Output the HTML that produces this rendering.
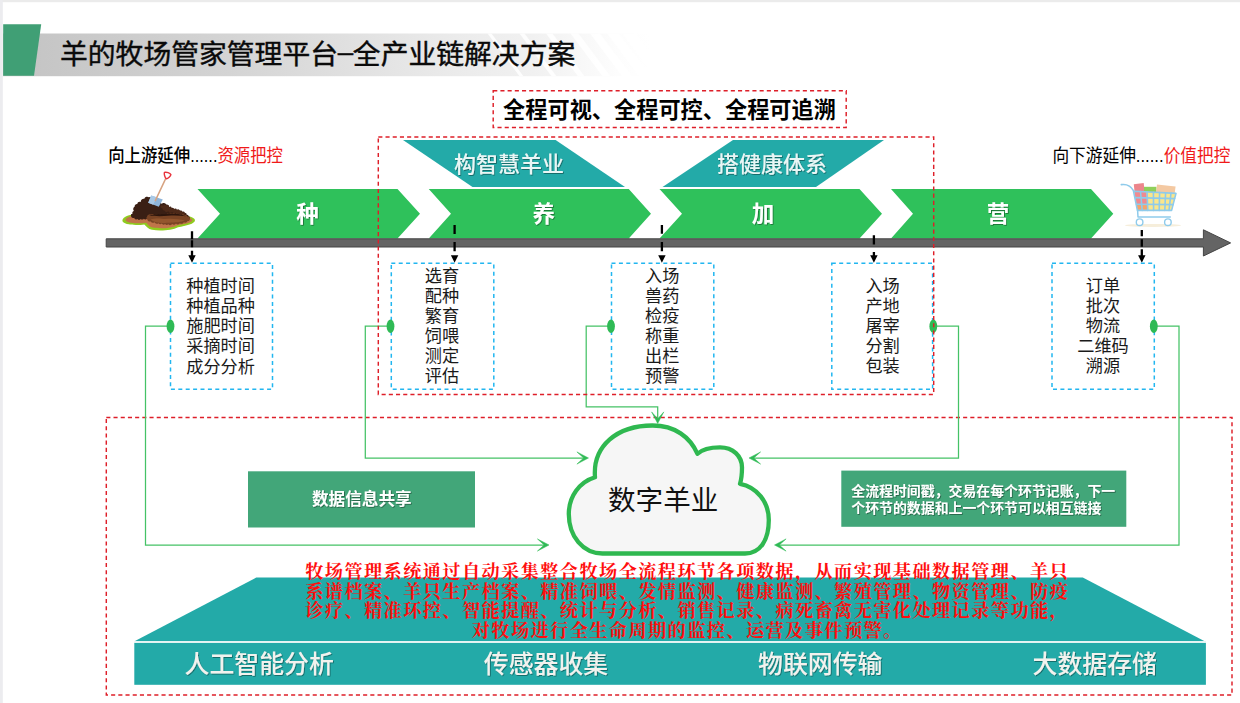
<!DOCTYPE html>
<html lang="zh-CN">
<head>
<meta charset="utf-8">
<title>羊的牧场管家管理平台-全产业链解决方案</title>
<style>
html,body{margin:0;padding:0;background:#fff;}
body{width:1240px;height:703px;overflow:hidden;position:relative;}
svg{position:absolute;left:0;top:0;display:block;}
text{font-family:"Liberation Sans","Noto Sans CJK SC",sans-serif;}
.t{font-size:27.8px;font-weight:400;fill:#0a0a0a;stroke:#0a0a0a;stroke-width:0.4px;}
.slog{font-size:22.2px;font-weight:700;fill:#000;}
.teal{font-size:22px;font-weight:500;fill:#e9f6f5;}
.chev{font-size:22.5px;font-weight:700;fill:#fff;}
.lst{font-size:17.2px;font-weight:400;fill:#1a1a1a;text-anchor:middle;}
.lab{font-size:16.4px;font-weight:500;fill:#000;}
.gbox{font-weight:700;fill:#fff;}
.base{font-size:24.9px;font-weight:500;fill:#f2f2ee;}
.red{font-family:"Liberation Serif","Noto Serif CJK SC",serif;font-size:18.2px;letter-spacing:1.4px;font-weight:700;fill:#ff0d0d;text-anchor:middle;}
</style>
</head>
<body>
<svg width="1240" height="703" viewBox="0 0 1240 703">
<defs>
  <linearGradient id="hb" gradientUnits="userSpaceOnUse" x1="3" y1="0" x2="650" y2="0">
    <stop offset="0" stop-color="#c3c3c3"/>
    <stop offset="0.35" stop-color="#d4d4d4"/>
    <stop offset="0.7" stop-color="#ebebeb"/>
    <stop offset="0.82" stop-color="#f1f1f1"/>
    <stop offset="0.95" stop-color="#fdfdfd"/>
    <stop offset="1" stop-color="#ffffff"/>
  </linearGradient>
  <filter id="ts" x="-5%" y="-20%" width="110%" height="150%">
    <feDropShadow dx="0.8" dy="0.8" stdDeviation="0.5" flood-color="#000" flood-opacity="0.45"/>
  </filter>
</defs>

<!-- page frame -->
<rect x="0" y="0" width="1240" height="703" fill="#ffffff"/>
<rect x="0" y="0" width="1240" height="2.2" fill="#ebebeb"/>
<rect x="0" y="0" width="2.8" height="703" fill="#ececef"/>

<!-- header -->
<g id="header">
  <rect x="3" y="33.5" width="677" height="42.7" fill="url(#hb)"/>
  <g id="stripes">
    <polygon points="487.5,33.5 491.5,33.5 523.5,76.2 519.5,76.2" fill="#fff" fill-opacity="0.85"/>
    <polygon points="519.5,33.5 524.5,33.5 556.5,76.2 551.5,76.2" fill="#fff" fill-opacity="0.85"/>
    <polygon points="546,33.5 552.5,33.5 584.5,76.2 578,76.2" fill="#fff" fill-opacity="0.85"/>
    <polygon points="570.5,33.5 578.5,33.5 610.5,76.2 602.5,76.2" fill="#fff" fill-opacity="0.85"/>
    <polygon points="590,33.5 600,33.5 632,76.2 622,76.2" fill="#fff" fill-opacity="0.85"/>
    <polygon points="607,33.5 619,33.5 651,76.2 639,76.2" fill="#fff" fill-opacity="0.85"/>
    <polygon points="622,33.5 636,33.5 668,76.2 654,76.2" fill="#fff" fill-opacity="0.85"/>
  </g>
  <polygon points="3.2,24.3 41.2,24.3 34,75.8 3.2,75.8" fill="#409f75"/>
  <text class="t" x="60" y="63.9">羊的牧场管家管理平台<tspan dy="-3.4" dx="-0.3">–</tspan><tspan dy="3.4" dx="-0.3">全产业链解决方案</tspan></text>
</g>

<!-- SECTION: top -->
<g id="top">
  <rect x="493.2" y="90.7" width="353" height="36.8" fill="none" stroke="#de1f29" stroke-width="1.45" stroke-dasharray="4.1 3.1"/>
  <text class="slog" x="669.5" y="118.1" text-anchor="middle">全程可视、全程可控、全程可追溯</text>
  <text class="lab" transform="translate(108.2,162.0) scale(1,1.09)">向上游延伸......<tspan fill="#f01a1a" font-weight="400">资源把控</tspan></text>
  <text class="lab" transform="translate(1052.4,162.0) scale(1,1.09)" style="font-weight:400;font-size:16.7px">向下游延伸......<tspan fill="#f01a1a" font-weight="400">价值把控</tspan></text>
</g>
<!-- SECTION: chain -->
<g id="chain">
  <!-- big red dashed frame -->
  <polygon points="403,140.1 555.6,140.1 625,187 472.5,187" fill="#23aaa8"/>
  <polygon points="733,140.1 884,140.1 816,187 662.5,187" fill="#23aaa8"/>
  <text class="teal" x="509" y="171.9" text-anchor="middle" filter="url(#ts)">构智慧羊业</text>
  <text class="teal" x="772" y="171.9" text-anchor="middle" filter="url(#ts)">搭健康体系</text>
  <polygon points="197.5,189 397.5,189 420,213.7 397.5,238.6 197.5,238.6 220,213.7" fill="#2fc15b"/>
  <polygon points="428.75,189 628.75,189 651,213.7 628.75,238.6 428.75,238.6 451,213.7" fill="#2fc15b"/>
  <polygon points="659.5,189 859.5,189 882,213.7 859.5,238.6 659.5,238.6 682,213.7" fill="#2fc15b"/>
  <polygon points="891,189 1091,189 1113.3,213.7 1091,238.6 891,238.6 913,213.7" fill="#2fc15b"/>
  <path d="M106.2,238.8 H1203.4 V229.8 L1230.6,242.9 L1203.4,256 V247 H106.2 Z" fill="#646464" stroke="#454545" stroke-width="1" stroke-linejoin="miter"/>
  <text class="chev" x="307.5" y="221.6" text-anchor="middle" filter="url(#ts)">种</text>
  <text class="chev" x="543.7" y="221.6" text-anchor="middle" filter="url(#ts)">养</text>
  <text class="chev" x="763" y="221.6" text-anchor="middle" filter="url(#ts)">加</text>
  <text class="chev" x="998" y="221.6" text-anchor="middle" filter="url(#ts)">营</text>
  <path d="M192,231.2 V239.3 M192,240.2 V247.3 M192,250.7 V256.5" stroke="#000" stroke-width="2.3" fill="none"/>
  <polygon points="188.3,255.2 195.7,255.2 192,262.8" fill="#000"/>
  <path d="M454.6,225.1 V234.0 M454.6,241.9 V251.3" stroke="#000" stroke-width="2.3" fill="none"/>
  <polygon points="450.90000000000003,255.2 458.3,255.2 454.6,262.8" fill="#000"/>
  <path d="M661.9,225.1 V233.8 M661.9,241.9 V251.3" stroke="#000" stroke-width="2.3" fill="none"/>
  <polygon points="658.1999999999999,255.2 665.6,255.2 661.9,262.8" fill="#000"/>
  <path d="M873.9,235.2 V244.5 M873.9,252.1 V256.5" stroke="#000" stroke-width="2.3" fill="none"/>
  <polygon points="870.1999999999999,255.2 877.6,255.2 873.9,262.8" fill="#000"/>
  <path d="M1141.8,229.9 V236.3 M1141.8,239.3 V246.8 M1141.8,249.2 V256.5" stroke="#000" stroke-width="2.3" fill="none"/>
  <polygon points="1138.1,255.2 1145.5,255.2 1141.8,262.8" fill="#000"/>
  <g id="soil">
    <path d="M122.4,220.6 C122.6,216.4 130,213.8 139,214.2 C150,212.8 160,214 170,215 C180,214.5 194.2,215.5 195,220 C195.2,224 186,225.8 178,227.2 C172,230.4 160,231.2 152,229.8 C148,228.8 146.3,226.2 144.3,224.4 C138,225.4 122.6,225.6 122.4,220.6 Z" fill="#8fcb1f"/>
    <path d="M125.5,219.8 C126.5,216.6 133,215.2 141,215.2 C152,214.2 165,215.2 175,216.2 C183,215.8 192.3,217.3 192.3,220 C192.3,222.8 185,224 177.5,225.2 C171.5,228.4 160,228.9 153,227.6 C149,226.8 148,224.2 146,222.7 C139,223.7 125.5,223.6 125.5,219.8 Z" fill="#c0754a"/>
    <path d="M131.1,216.3 A1.9,1.9 0 0 1 132.5,213.7 A1.9,1.9 0 0 1 134.0,211.0 A2.7,2.7 0 0 1 134.6,206.7 A2.4,2.4 0 0 1 137.3,204.0 A2.4,2.4 0 0 1 140.7,202.0 A3.0,3.0 0 0 1 144.3,198.8 A3.0,3.0 0 0 1 148.9,197.2 A2.9,2.9 0 0 1 152.8,199.9 A2.0,2.0 0 0 1 155.7,201.3 A2.0,2.0 0 0 1 158.6,202.6 A2.0,2.0 0 0 1 161.5,204.0 A3.0,3.0 0 0 1 166.3,204.6 A2.2,2.2 0 0 1 169.1,206.9 A1.7,1.7 0 0 1 171.6,208.0 A1.7,1.7 0 0 1 174.1,209.2 A1.9,1.9 0 0 1 177.0,210.0 A1.9,1.9 0 0 1 179.9,210.7 A1.7,1.7 0 0 1 182.3,211.9 A1.7,1.7 0 0 1 184.7,213.1 A1.6,1.6 0 0 1 186.7,214.7 A1.6,1.6 0 0 1 188.6,216.3 A1.4,1.4 0 0 1 189.8,218.3 A2.8,2.8 0 0 1 185.7,220.4 A2.0,2.0 0 0 1 182.5,220.5 A2.0,2.0 0 0 1 179.2,220.6 A2.0,2.0 0 0 1 176.0,220.7 A2.3,2.3 0 0 1 172.4,220.2 A2.3,2.3 0 0 1 168.8,219.7 A2.3,2.3 0 0 1 165.1,219.2 A2.3,2.3 0 0 1 161.5,218.8 A2.2,2.2 0 0 1 157.9,218.7 A2.2,2.2 0 0 1 154.3,218.6 A2.2,2.2 0 0 1 150.6,218.5 A2.2,2.2 0 0 1 147.0,218.5 A2.0,2.0 0 0 1 143.8,218.7 A2.0,2.0 0 0 1 140.6,218.9 A2.0,2.0 0 0 1 137.3,219.1 A2.1,2.1 0 0 1 134.2,217.7 A2.1,2.1 0 0 1 131.1,216.3 Z" fill="#3a1f14"/>
    <path d="M160.5,206.2 A1.8,1.8 0 0 1 163.4,205.7 A1.8,1.8 0 0 1 166.3,205.2 A2.2,2.2 0 0 1 169.2,207.2 A2.2,2.2 0 0 1 172.2,209.1 A2.5,2.5 0 0 1 176.0,210.1 A2.5,2.5 0 0 1 179.9,211.0 A2.0,2.0 0 0 1 182.8,212.5 A2.0,2.0 0 0 1 185.7,213.9 A1.8,1.8 0 0 1 182.8,213.7 A1.8,1.8 0 0 1 179.9,213.4 A2.4,2.4 0 0 1 176.0,212.7 A2.4,2.4 0 0 1 172.2,212.0 A2.4,2.4 0 0 1 168.3,211.3 A2.4,2.4 0 0 1 164.4,210.5 A1.8,1.8 0 0 1 162.5,208.4 A1.8,1.8 0 0 1 160.5,206.2 Z" fill="#4d2918"/>
    <path d="M147.0,216.8 A2.8,2.8 0 0 1 150.9,214.6 A2.4,2.4 0 0 1 154.7,215.1 A2.4,2.4 0 0 1 158.6,215.6 A2.4,2.4 0 0 1 162.5,215.1 A2.4,2.4 0 0 1 166.3,214.6 A1.8,1.8 0 0 1 169.2,214.1 A1.8,1.8 0 0 1 172.2,213.6 A1.8,1.8 0 0 1 175.1,214.1 A1.8,1.8 0 0 1 178.0,214.6 A2.1,2.1 0 0 1 181.3,214.9 A2.1,2.1 0 0 1 184.7,215.2 A1.8,1.8 0 0 1 187.2,216.6 A1.8,1.8 0 0 1 189.8,218.1 A2.2,2.2 0 0 1 187.6,221.0 A2.5,2.5 0 0 1 183.8,222.2 A2.5,2.5 0 0 1 179.9,223.3 A2.4,2.4 0 0 1 176.0,223.6 A2.4,2.4 0 0 1 172.2,224.0 A2.4,2.4 0 0 1 168.3,224.3 A2.0,2.0 0 0 1 165.1,224.0 A2.0,2.0 0 0 1 161.8,223.6 A2.0,2.0 0 0 1 158.6,223.3 A2.5,2.5 0 0 1 154.7,222.3 A2.5,2.5 0 0 1 150.9,221.4 A2.7,2.7 0 0 1 147.2,219.1 A1.4,1.4 0 0 1 147.0,216.8 Z" fill="#7a4424"/>
    <path d="M150.5,219.4 C155,217.9 161,218.3 165,219 C171,218.2 179,219 185,220.6 C181,222.4 173,222.9 167,222.7 C161,223.4 154,222.6 150.5,219.4 Z" fill="#93562e"/>
    <path d="M149,215.6 C155,213.6 163,214.6 170,213.6 C176,213.2 182,214.6 186,216.2 C180,215.6 174,215.2 168,215.8 C161,216.6 154,216.2 149,215.6 Z" fill="#2d160d"/>
    <polygon points="151.2,195.4 162.8,199.4 158.8,206.8 148.2,202.8" fill="#8fb5da"/>
    <polygon points="151.2,195.4 156.8,197.3 153.2,204.7 148.2,202.8" fill="#a9c9e6"/>
    <line x1="155.3" y1="200.6" x2="165.8" y2="178.4" stroke="#d7a381" stroke-width="1.5" stroke-linecap="round"/>
    <path d="M164.4,172.4 C166.5,171.8 170,173 170.9,174.6 C170.6,176.2 168,178.6 166.3,178.8 C164.9,177.6 163.9,174 164.4,172.4 Z" fill="#fff" stroke="#e8323c" stroke-width="1.4" stroke-linejoin="round"/>
  </g>
  <g id="cart">
    <ellipse cx="1153" cy="225.4" rx="28" ry="1.5" fill="#f6eedb"/>
    <rect x="1134.2" y="183.6" width="10" height="9" fill="#ec868c" transform="rotate(-6 1139 188)"/>
    <rect x="1144" y="186.8" width="12.5" height="6" fill="#8fcf5a"/>
    <polygon points="1157,184.6 1175.6,186.6 1174.6,194 1156,192.4" fill="#f4c9a2"/>
    <polygon points="1134.2,191.2 1176,193.4 1171.6,210.4 1137.4,210.4" fill="#fbe68a"/>
    <polygon points="1134.2,191.2 1146.5,191.8 1147.5,210.4 1137.4,210.4" fill="#f08a90"/>
    <polygon points="1137,205 1148,205 1148,210.4 1137.4,210.4" fill="#f6a46a"/>
    <g fill="none" stroke="#8fcbeb" stroke-width="1.6" stroke-linecap="round" stroke-linejoin="round">
      <path d="M1121.3,184.6 C1126,184 1131,186 1133.4,190.6 L1137.4,210.4 L1171.6,210.4 L1176,193.4 L1134.2,191.2"/>
      <path d="M1135.3,197.6 L1174.6,198.6 M1136.5,204.2 L1173.2,204.6"/>
      <path d="M1140.5,191.5 L1142.2,210.4 M1147,191.9 L1147.8,210.4 M1153.4,192.2 L1153.6,210.4 M1159.6,192.5 L1159.2,210.4 M1165.6,192.8 L1164.8,210.4 M1171,193.1 L1169,210.4"/>
      <path d="M1137.6,210.4 L1138,217 L1170.3,217" stroke-width="1.5"/>
    </g>
    <circle cx="1139.6" cy="222.2" r="3.3" fill="#fff" stroke="#8fcbeb" stroke-width="1.4"/>
    <circle cx="1167.9" cy="222.2" r="3.3" fill="#fff" stroke="#8fcbeb" stroke-width="1.4"/>
  </g>
</g>
<!-- SECTION: boxes -->
<g id="boxes">
  <rect x="170.5" y="263.3" width="102.0" height="126" fill="none" stroke="#22b6f0" stroke-width="1.5" stroke-dasharray="4 3.4"/>
  <rect x="391.3" y="263.3" width="102.5" height="126" fill="none" stroke="#22b6f0" stroke-width="1.5" stroke-dasharray="4 3.4"/>
  <rect x="611.5" y="263.3" width="102.3" height="126" fill="none" stroke="#22b6f0" stroke-width="1.5" stroke-dasharray="4 3.4"/>
  <rect x="831.8" y="263.3" width="100.8" height="126" fill="none" stroke="#22b6f0" stroke-width="1.5" stroke-dasharray="4 3.4"/>
  <rect x="1052" y="263.3" width="102.3" height="126" fill="none" stroke="#22b6f0" stroke-width="1.5" stroke-dasharray="4 3.4"/>
  <text class="lst" x="220.6" y="291.7">种植时间</text>
  <text class="lst" x="220.6" y="311.9">种植品种</text>
  <text class="lst" x="220.6" y="332.1">施肥时间</text>
  <text class="lst" x="220.6" y="352.3">采摘时间</text>
  <text class="lst" x="220.6" y="372.5">成分分析</text>
  <text class="lst" x="441.9" y="282.2">选育</text>
  <text class="lst" x="441.9" y="302.2">配种</text>
  <text class="lst" x="441.9" y="322.1">繁育</text>
  <text class="lst" x="441.9" y="342.1">饲喂</text>
  <text class="lst" x="441.9" y="362.0">测定</text>
  <text class="lst" x="441.9" y="382.0">评估</text>
  <text class="lst" x="662.2" y="282.2">入场</text>
  <text class="lst" x="662.2" y="302.2">兽药</text>
  <text class="lst" x="662.2" y="322.1">检疫</text>
  <text class="lst" x="662.2" y="342.1">称重</text>
  <text class="lst" x="662.2" y="362.0">出栏</text>
  <text class="lst" x="662.2" y="382.0">预警</text>
  <text class="lst" x="882.6" y="292.1">入场</text>
  <text class="lst" x="882.6" y="312.0">产地</text>
  <text class="lst" x="882.6" y="331.8">屠宰</text>
  <text class="lst" x="882.6" y="351.7">分割</text>
  <text class="lst" x="882.6" y="371.5">包装</text>
  <text class="lst" x="1103" y="292.1">订单</text>
  <text class="lst" x="1103" y="312.0">批次</text>
  <text class="lst" x="1103" y="331.8">物流</text>
  <text class="lst" x="1103" y="351.7">二维码</text>
  <text class="lst" x="1103" y="371.5">溯源</text>
</g>
<!-- SECTION: lower -->
<g id="lower">
  <rect x="106.3" y="417.5" width="1125.7" height="277.5" fill="none" stroke="#de1f29" stroke-width="1.45" stroke-dasharray="4.1 3.1"/>
  <path d="M170.5,326 H145.5 V545 H545" fill="none" stroke="#45c266" stroke-width="1.25"/>
  <path d="M390.5,326 H365.3 V458 H584" fill="none" stroke="#45c266" stroke-width="1.25"/>
  <path d="M611,326 H586.2 V406.8 H657.7 V419" fill="none" stroke="#45c266" stroke-width="1.25"/>
  <path d="M933.3,326 H958.5 V458 H753" fill="none" stroke="#45c266" stroke-width="1.25"/>
  <path d="M1153.8,326 H1179 V545 H778" fill="none" stroke="#45c266" stroke-width="1.25"/>
  <polygon points="549.0,545.0 537.4,551.1 544.2,545.0 537.4,538.9" fill="#2fba55" stroke="#2fba55" stroke-width="0.5" stroke-linejoin="miter"/>
  <polygon points="588.5,458.0 576.9,464.1 583.7,458.0 576.9,451.9" fill="#2fba55" stroke="#2fba55" stroke-width="0.5" stroke-linejoin="miter"/>
  <polygon points="749.0,458.0 760.6,451.9 753.8,458.0 760.6,464.1" fill="#2fba55" stroke="#2fba55" stroke-width="0.5" stroke-linejoin="miter"/>
  <polygon points="774.5,545.0 786.1,538.9 779.3,545.0 786.1,551.1" fill="#2fba55" stroke="#2fba55" stroke-width="0.5" stroke-linejoin="miter"/>
  <polygon points="657.7,423.5 651.6,411.9 657.7,418.7 663.8,411.9" fill="#2fba55" stroke="#2fba55" stroke-width="0.5" stroke-linejoin="miter"/>
  <ellipse cx="170.5" cy="326.2" rx="3.9" ry="6.8" fill="#2fba55"/>
  <ellipse cx="390.5" cy="326.2" rx="3.9" ry="6.8" fill="#2fba55"/>
  <ellipse cx="611" cy="326.2" rx="3.9" ry="6.8" fill="#2fba55"/>
  <ellipse cx="933.3" cy="326.2" rx="3.9" ry="6.8" fill="#2fba55"/>
  <ellipse cx="1153.8" cy="326.2" rx="3.9" ry="6.8" fill="#2fba55"/>
  <path id="cloud" d="M602.5,553.5 C583,553.5 568.8,536.5 568.8,514 C568.8,496.5 579.5,482 595,477.3 C592.5,446 617,425.5 652.5,425.5 C675,425.5 690,437 697.5,453.8 C702,449.5 710,447.3 720,447.3 C733,447.3 742,456 742,467.5 C742,474 741.5,479 740,483.8 C757,487 768.8,502 768.8,520 C768.8,540.5 760,553.5 745,553.5 Z" fill="#f6f6f6" stroke="#2fb850" stroke-width="4.3" stroke-linejoin="round"/>
  <text x="663.2" y="510" text-anchor="middle" font-size="27.6" fill="#111">数字羊业</text>
  <rect x="248" y="471.3" width="227" height="56.2" fill="#42a679"/>
  <text class="gbox" x="361.8" y="504.9" text-anchor="middle" font-size="16.6" filter="url(#ts)">数据信息共享</text>
  <rect x="841.3" y="470.6" width="285" height="56.2" fill="#42a679"/>
  <text class="gbox" x="851.3" y="495.6" font-size="13.9" filter="url(#ts)">全流程时间戳，交易在每个环节记账，下一</text>
  <text class="gbox" x="851.3" y="512.6" font-size="13.9" filter="url(#ts)">个环节的数据和上一个环节可以相互链接</text>
  <polygon points="256.3,577.5 1082.8,577.5 1204.2,641.1 135,641.1" fill="#23aaa8"/>
  <rect x="134.3" y="642.8" width="1071.6" height="42" fill="#23aaa8"/>
  <rect x="134.3" y="641.1" width="1071.6" height="1.7" fill="#e4f4f3"/>
  <text class="base" x="184.5" y="673" filter="url(#ts)">人工智能分析</text>
  <text class="base" x="483.8" y="673" filter="url(#ts)">传感器收集</text>
  <text class="base" x="758" y="673" filter="url(#ts)">物联网传输</text>
  <text class="base" x="1032.5" y="673" filter="url(#ts)">大数据存储</text>
  <text class="red" x="687.2" y="577.8">牧场管理系统通过自动采集整合牧场全流程环节各项数据，从而实现基础数据管理、羊只</text>
  <text class="red" x="687.2" y="597.5">系谱档案、羊只生产档案、精准饲喂、发情监测、健康监测、繁殖管理、物资管理、防疫</text>
  <text class="red" x="687.2" y="617.2">诊疗、精准环控、智能提醒、统计与分析、销售记录、病死畜禽无害化处理记录等功能，</text>
  <text class="red" x="687.2" y="636.9">对牧场进行全生命周期的监控、运营及事件预警。</text>
</g>
  <rect x="378.3" y="137" width="555.4" height="257.4" fill="none" stroke="#de1f29" stroke-width="1.45" stroke-dasharray="4.1 3.1"/>
</svg>
</body>
</html>
